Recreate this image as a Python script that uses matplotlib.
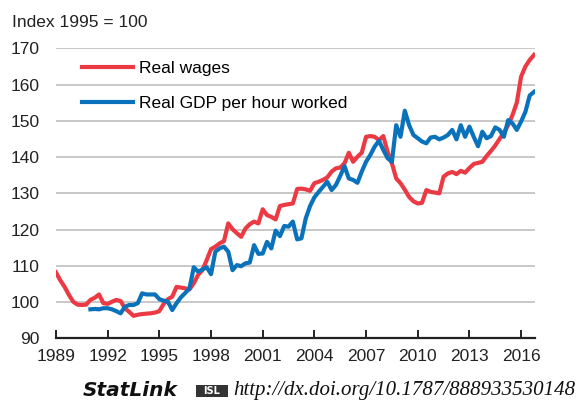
import numpy as np
import matplotlib.pyplot as plt
import matplotlib.patches as mpatches

# quarterly data, index 1995 = 100
wage_start = 1989
real_wages = [
    108.2, 106.0, 104.2, 102.0,   # 1989
    100.1, 99.3, 99.2, 99.3,      # 1990
    100.6, 101.2, 102.1, 99.7,    # 1991
    99.5, 100.1, 100.6, 100.3,    # 1992
    98.3, 97.3, 96.2, 96.5,       # 1993
    96.7, 96.8, 96.9, 97.1,       # 1994
    97.5, 99.5, 100.8, 101.5,     # 1995
    104.2, 104.0, 103.8, 103.5,   # 1996
    105.2, 107.5, 108.8, 111.6,   # 1997
    114.6, 115.3, 116.2, 116.8,   # 1998
    121.7, 120.1, 119.0, 118.0,   # 1999
    120.3, 121.5, 122.2, 121.7,   # 2000
    125.6, 124.0, 123.5, 122.8,   # 2001
    126.5, 126.8, 127.0, 127.2,   # 2002
    131.2, 131.3, 131.1, 130.7,   # 2003
    132.8, 133.2, 133.7, 134.4,   # 2004
    136.0, 136.9, 137.1, 138.3,   # 2005
    141.2, 138.7, 140.1, 141.2,   # 2006
    145.6, 145.8, 145.6, 144.7,   # 2007
    145.8, 141.5, 138.3, 134.1,   # 2008
    132.8, 131.0, 129.0, 127.8,   # 2009
    127.2, 127.4, 130.9, 130.4,   # 2010
    130.2, 130.0, 134.6, 135.5,   # 2011
    135.9, 135.3, 136.2, 135.7,   # 2012
    137.0, 138.1, 138.4, 138.7,   # 2013
    140.3, 141.7, 143.2, 145.0,   # 2014
    146.8, 148.8, 151.6, 155.0,   # 2015
    162.2, 165.0, 166.8, 168.2,   # 2016
]

gdp_start = 1991
gdp_per_hour = [
    98.0, 98.1, 98.0, 98.3,       # 1991
    98.3, 98.0, 97.5, 96.9,       # 1992
    98.7, 99.2, 99.2, 99.7,       # 1993
    102.4, 102.1, 102.1, 102.1,   # 1994
    100.8, 100.4, 100.1, 97.8,    # 1995
    99.7, 101.3, 102.5, 103.8,    # 1996
    109.6, 108.4, 109.0, 109.6,   # 1997
    107.7, 113.9, 114.8, 115.3,   # 1998
    113.9, 108.8, 110.2, 109.9,   # 1999
    110.7, 110.9, 115.7, 113.3,   # 2000
    113.4, 116.6, 114.8, 119.7,   # 2001
    118.2, 121.0, 120.8, 122.2,   # 2002
    117.3, 117.6, 123.1, 126.5,   # 2003
    128.9, 130.4, 131.8, 133.2,   # 2004
    130.9, 132.3, 134.8, 137.5,   # 2005
    134.1, 133.7, 132.9, 136.0,   # 2006
    138.7, 140.6, 142.9, 144.5,   # 2007
    142.0, 139.7, 138.7, 148.8,   # 2008
    145.6, 152.8, 148.8, 146.1,   # 2009
    145.2, 144.3, 143.8, 145.4,   # 2010
    145.6, 144.9, 145.4, 146.1,   # 2011
    147.5, 144.9, 148.8, 145.6,   # 2012
    148.4, 145.6, 143.0, 147.0,   # 2013
    145.2, 145.8, 148.2, 147.5,   # 2014
    145.6, 150.2, 149.3, 147.5,   # 2015
    149.8, 152.5, 157.0, 158.0,   # 2016
]

xticks = list(range(1989, 2017, 3))
yticks = list(range(90, 171, 10))

FONT = ['Liberation Sans', 'DejaVu Sans']
plt.rcParams['font.family'] = FONT

x_w = wage_start + np.arange(len(real_wages)) / 4
x_g = gdp_start + np.arange(len(gdp_per_hour)) / 4

fig = plt.figure(figsize=(5.77, 4.03), dpi=100)
ax = fig.add_axes([0.097, 0.1605, 0.83, 0.7195])

red = '#ec3a45'
blue = '#0a72ba'

ax.plot(x_w, real_wages, color=red, lw=3.0, label='Real wages', zorder=3)
ax.plot(x_g, gdp_per_hour, color=blue, lw=3.0, label='Real GDP per hour worked', zorder=3)

ax.set_xlim(1989, 2016.8)
ax.set_ylim(90, 170)
ax.set_yticks(yticks)
ax.set_xticks(xticks)
ax.set_xticklabels([str(t) for t in xticks])
ax.yaxis.grid(True, color='#c8c8c8', lw=1.4)
ax.set_axisbelow(True)

for s in ['top', 'right', 'left']:
    ax.spines[s].set_visible(False)
ax.spines['bottom'].set_linewidth(1.6)
ax.spines['bottom'].set_color('#222222')

ax.tick_params(axis='x', direction='in', length=6, width=1.4, color='#222222',
               labelsize=12.5, pad=8, labelcolor='#222222')
ax.tick_params(axis='y', length=0, labelsize=12.5, pad=12, labelcolor='#222222')

ax.legend(loc='upper left', bbox_to_anchor=(0.03, 1.0), frameon=False,
          fontsize=12.5, handlelength=2.9, handletextpad=0.35, labelspacing=1.15,
          borderaxespad=0.3)

fig.text(0.021, 0.945, 'Index 1995 = 100', fontsize=12.5, color='#222222', va='center')

# StatLink footer
fig.text(0.143, 0.030, 'StatLink', fontsize=14.5, fontweight='bold', style='italic',
         family=['DejaVu Sans'], color='#111111', va='center')
fig.patches.append(mpatches.Rectangle((0.340, 0.016), 0.055, 0.028, transform=fig.transFigure,
                                      facecolor='#333333', edgecolor='none'))
fig.text(0.3675, 0.030, 'ISL', fontsize=7, fontweight='bold', color='white',
         ha='center', va='center', family=['DejaVu Sans'])
fig.text(0.404, 0.030, 'http://dx.doi.org/10.1787/888933530148', fontsize=15, style='italic',
         family=['Liberation Serif', 'DejaVu Serif'], color='#111111', va='center')

fig.savefig('out.png', dpi=100)
